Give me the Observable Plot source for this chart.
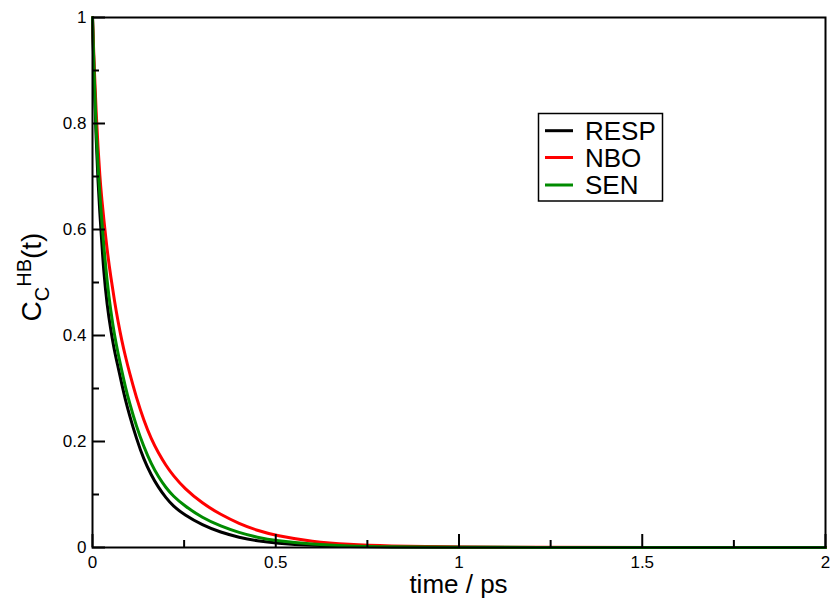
<!DOCTYPE html>
<html><head><meta charset="utf-8">
<script src="https://cdn.jsdelivr.net/npm/d3@7"></script>
<script src="https://cdn.jsdelivr.net/npm/@observablehq/plot@0.6"></script>
<style>body{margin:0;background:#fff} svg{display:block}</style>
</head><body><div id="chart"></div>
<script>
// time / ps
const time = [0, 0.005, 0.01, 0.015, 0.02, 0.025, 0.03, 0.04, 0.05, 0.06, 0.07, 0.08, 0.09, 0.10,
  0.12, 0.14, 0.16, 0.18, 0.20, 0.22, 0.25, 0.30, 0.35, 0.40, 0.45, 0.50, 0.60, 0.70, 0.80, 1.0, 1.2, 1.5, 2.0];
const resp = [1.0, 0.87, 0.77, 0.69, 0.63, 0.58, 0.525, 0.455, 0.41, 0.37, 0.34, 0.308, 0.278, 0.252,
  0.205, 0.166, 0.137, 0.113, 0.094, 0.078, 0.062, 0.042, 0.0285, 0.019, 0.0125, 0.0082, 0.0036, 0.0016, 0.0008, 0.0002, 0.0001, 0, 0];
const nbo = [1.0, 0.90, 0.82, 0.755, 0.70, 0.66, 0.625, 0.56, 0.51, 0.465, 0.425, 0.39, 0.36, 0.332,
  0.282, 0.24, 0.205, 0.178, 0.155, 0.136, 0.112, 0.083, 0.062, 0.045, 0.032, 0.0225, 0.011, 0.0055, 0.0028, 0.0008, 0.0003, 0.0001, 0];
const sen = [1.0, 0.88, 0.785, 0.72, 0.665, 0.62, 0.575, 0.50, 0.445, 0.40, 0.365, 0.333, 0.302, 0.275,
  0.228, 0.19, 0.158, 0.133, 0.113, 0.097, 0.079, 0.056, 0.040, 0.028, 0.019, 0.0128, 0.0058, 0.0028, 0.0014, 0.0004, 0.0001, 0, 0];

const seriesNames = ["RESP", "NBO", "SEN"];
const seriesColors = ["#000000", "#ff0000", "#008b00"];
const seriesValues = [resp, nbo, sen];

const xMajor = [0, 0.5, 1, 1.5, 2];
const xMinor = [0.25, 0.75, 1.25, 1.75];
const xTickLabels = ["0", "0.5", "1", "1.5", "2"];
const yMajor = [0, 0.2, 0.4, 0.6, 0.8, 1];
const yMinor = [0.1, 0.3, 0.5, 0.7, 0.9];
const yTickLabels = ["0", "0.2", "0.4", "0.6", "0.8", "1"];
const xLabel = "time / ps";

const rows = [];
seriesNames.forEach((name, k) => {
  time.forEach((t, i) => rows.push({t, c: seriesValues[k][i], series: name}));
});

const font = "'Liberation Sans', Arial, Helvetica, sans-serif";

const plot = Plot.plot({
  width: 834, height: 603,
  marginLeft: 92, marginRight: 9, marginTop: 17, marginBottom: 56,
  style: {fontFamily: font, fontSize: "17px", background: "#fff", color: "#000"},
  x: {domain: [0, 2], label: null},
  y: {domain: [0, 1], label: null},
  color: {domain: seriesNames, range: seriesColors},
  marks: [
    Plot.line(rows, {x: "t", y: "c", stroke: "series", strokeWidth: 3, curve: "basis"}),
    Plot.axisX(xMajor, {tickSize: -13, fill: "none", strokeWidth: 2, label: null}),
    Plot.axisX(xMinor, {tickSize: -7, fill: "none", strokeWidth: 2, label: null}),
    Plot.axisX(xMajor, {tickSize: 0, tickPadding: 8, fontSize: 17, label: null,
      tickFormat: d => xTickLabels[xMajor.indexOf(d)]}),
    Plot.axisY(yMajor, {tickSize: -13, fill: "none", strokeWidth: 2, label: null}),
    Plot.axisY(yMinor, {tickSize: -7, fill: "none", strokeWidth: 2, label: null}),
    Plot.axisY(yMajor, {tickSize: 0, tickPadding: 6, fontSize: 17, label: null,
      tickFormat: d => yTickLabels[yMajor.indexOf(d)]}),
    Plot.frame({stroke: "#000", strokeWidth: 2})
  ]
});

const svg = d3.select(plot);
svg.selectAll('g[aria-label$="tick label"]').attr("font-size", 17).style("font-size", "17px");

// x label
svg.append("text")
  .attr("x", 458.5).attr("y", 593)
  .attr("text-anchor", "middle")
  .attr("font-family", font).attr("font-size", 26).attr("fill", "#000")
  .text(xLabel);

// y label: C_C^HB(t)
const yl = svg.append("text")
  .attr("transform", "translate(41,277) rotate(-90)")
  .attr("text-anchor", "middle")
  .attr("font-family", font).attr("font-size", 28).attr("fill", "#000");
yl.append("tspan").text("C");
yl.append("tspan").attr("font-size", 20).attr("dy", 8).text("C");
yl.append("tspan").attr("font-size", 20).attr("dy", -18).text("HB");
yl.append("tspan").attr("dy", 10).text("(t)");

// legend
const lg = svg.append("g").attr("font-family", font).attr("text-anchor", "start");
lg.append("rect").attr("x", 538.5).attr("y", 113.5).attr("width", 124).attr("height", 87.5)
  .attr("fill", "#fff").attr("stroke", "#000").attr("stroke-width", 1.5);
const legendY = [130.7, 157.5, 185];
seriesNames.forEach((name, k) => {
  lg.append("line").attr("x1", 545).attr("x2", 573).attr("y1", legendY[k]).attr("y2", legendY[k])
    .attr("stroke", seriesColors[k]).attr("stroke-width", 3);
  lg.append("text").attr("x", 585).attr("y", legendY[k] + 9.3)
    .attr("text-anchor", "start")
    .attr("font-size", 26).attr("fill", "#000").text(name);
});

document.getElementById("chart").appendChild(plot);
</script>
</body></html>
